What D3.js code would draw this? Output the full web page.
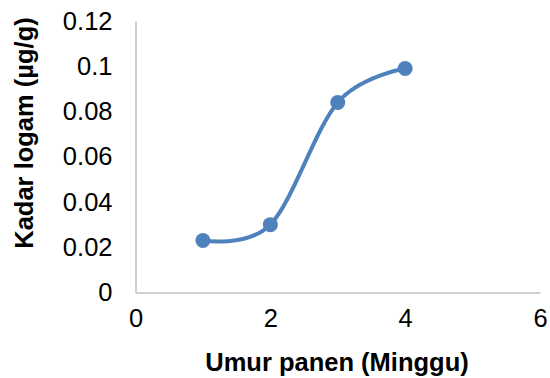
<!DOCTYPE html>
<html>
<head>
<meta charset="utf-8">
<script src="https://cdn.jsdelivr.net/npm/d3@7"></script>
<style>
  html, body { margin: 0; padding: 0; background: #fff; }
  svg { display: block; }
</style>
</head>
<body>
<svg id="chart" width="550" height="378"></svg>
<script>
// Data
const weeks = [1, 2, 3, 4];
const metalLevels = [0.023, 0.030, 0.084, 0.099];
const xTicks = [0, 2, 4, 6];
const yTicks = [0, 0.02, 0.04, 0.06, 0.08, 0.1, 0.12];
const xTitle = "Umur panen (Minggu)";
const yTitle = "Kadar logam (µg/g)";

const W = 550, H = 378;
const margin = { left: 135.5, right: 10, top: 21, bottom: 85.5 };
const svg = d3.select("#chart");

const x = d3.scaleLinear().domain([0, 6]).range([margin.left, W - margin.right]);
const y = d3.scaleLinear().domain([0, 0.12]).range([H - margin.bottom, margin.top]);

const fontFamily = "'Liberation Sans', Arial, sans-serif";
const axisColor = "#BFBFBF";
const seriesColor = "#4F81BD";

// Y axis
const yAxis = svg.append("g")
  .attr("transform", `translate(${x(0)},0)`)
  .call(d3.axisLeft(y).tickValues(yTicks).tickSize(0).tickPadding(23)
    .tickFormat(d => d3.format("")(+d.toFixed(2))));
yAxis.select(".domain").attr("stroke", axisColor).attr("stroke-width", 1.5);
yAxis.selectAll("text")
  .attr("font-family", fontFamily).attr("font-size", 25.5).attr("fill", "#000");

// X axis
const xAxis = svg.append("g")
  .attr("transform", `translate(0,${y(0)})`)
  .call(d3.axisBottom(x).tickValues(xTicks).tickSize(0).tickPadding(16)
    .tickFormat(d3.format("d")));
xAxis.select(".domain").attr("stroke", axisColor).attr("stroke-width", 1.5);
xAxis.selectAll("text")
  .attr("font-family", fontFamily).attr("font-size", 25.5).attr("fill", "#000");

// Titles
svg.append("text")
  .attr("x", 337).attr("y", 371)
  .attr("text-anchor", "middle")
  .attr("font-family", fontFamily).attr("font-size", 25.5).attr("font-weight", "bold")
  .text(xTitle);

svg.append("text")
  .attr("transform", "translate(33,133) rotate(-90)")
  .attr("text-anchor", "middle")
  .attr("font-family", fontFamily).attr("font-size", 25.5).attr("font-weight", "bold")
  .text(yTitle);

// Series
const pts = weeks.map((w, i) => [w, metalLevels[i]]);
const line = d3.line()
  .x(d => x(d[0])).y(d => y(d[1]))
  .curve(d3.curveCardinal.tension(0));
svg.append("path")
  .datum(pts)
  .attr("d", line)
  .attr("fill", "none")
  .attr("stroke", seriesColor)
  .attr("stroke-width", 4)
  .attr("stroke-linecap", "round");

svg.selectAll("circle.pt")
  .data(pts)
  .join("circle")
  .attr("class", "pt")
  .attr("cx", d => x(d[0])).attr("cy", d => y(d[1]))
  .attr("r", 7.5)
  .attr("fill", seriesColor);
</script>
</body>
</html>
